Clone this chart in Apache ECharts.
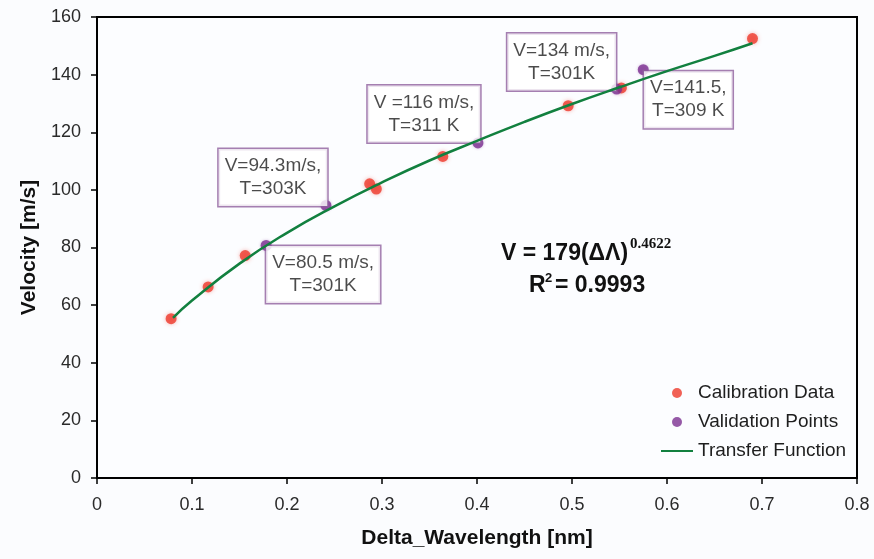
<!DOCTYPE html>
<html lang="en">
<head>
  <meta charset="UTF-8">
  <title>Velocity transfer function</title>
  <style>
    * { margin: 0; padding: 0; }
    body { background: #fbfcfe; }
    #chart { width: 874px; height: 559px; }
  </style>
</head>
<body>
  <div id="chart"></div>

  <script src="https://cdn.jsdelivr.net/npm/echarts@6/dist/echarts.min.js"></script>
  <script type="text/javascript">
  // calibration data (red)
  var calX = [0.078, 0.117, 0.156, 0.287, 0.294, 0.364, 0.496, 0.552, 0.690];
  var calY = [55.3, 66.3, 77.2, 102.1, 100.3, 111.6, 129.2, 135.4, 152.5];
  // validation points (purple)
  var valX = [0.178, 0.241, 0.401, 0.547, 0.575];
  var valY = [80.7, 94.6, 116.3, 135.0, 141.7];
  var valText = [
    'V=80.5 m/s,\nT=301K',
    'V=94.3m/s,\nT=303K',
    'V =116 m/s,\nT=311 K',
    'V=134 m/s,\nT=301K',
    'V=141.5,\nT=309 K'
  ];
  // transfer function curve
  var fitX = [0.08, 0.10, 0.15, 0.20, 0.25, 0.30, 0.35, 0.40, 0.45, 0.50, 0.55, 0.60, 0.65, 0.69];
  var fitY = [55.6, 61.6, 74.4, 85.1, 94.3, 102.6, 110.2, 117.0, 123.6, 129.8, 135.6, 141.2, 146.5, 150.9];
  var xTicks = ['0', '0.1', '0.2', '0.3', '0.4', '0.5', '0.6', '0.7', '0.8'];

  var FONT = "'Liberation Sans', Arial, sans-serif";

  function main () {
    var chart = echarts.init(document.getElementById('chart'));

    // where each annotation box sits relative to its point
    var boxOffset = [[57, 29], [-53, -28], [-54, -29], [-55, -27], [45, 30]];

    var valData = valX.map(function (x, i) {
      return {
        value: [x, valY[i]],
        label: {
          show: true,
          formatter: valText[i],
          position: ['50%', '50%'],
          align: 'center',
          verticalAlign: 'middle',
          offset: boxOffset[i],
          fontFamily: FONT,
          fontSize: 19,
          lineHeight: 23,
          color: '#1e1e1e',
          backgroundColor: '#ffffff',
          borderColor: '#8f5f9e',
          borderWidth: 1.5,
          padding: [6, 6, 5, 6]
        }
      };
    });

    var option = {
      backgroundColor: '#fbfcfe',
      animation: false,
      grid: {
        left: 97, right: 17, top: 17, bottom: 81,
        show: true, borderColor: '#000', borderWidth: 2, backgroundColor: '#fcfdff'
      },
      legend: {
        orient: 'vertical',
        left: 660,
        top: 383,
        padding: 0,
        itemWidth: 32,
        itemHeight: 10,
        itemGap: 9,
        textStyle: { fontFamily: FONT, fontSize: 19, lineHeight: 20, color: '#1e1e1e' },
        data: [
          { name: 'Calibration Data', icon: 'circle' },
          { name: 'Validation Points', icon: 'circle' },
          { name: 'Transfer Function', itemStyle: { opacity: 0 } }
        ]
      },
      xAxis: {
        type: 'value',
        min: 0, max: 0.8, interval: 0.1,
        name: 'Delta_Wavelength [nm]',
        nameLocation: 'middle',
        nameGap: 50,
        nameTextStyle: { fontFamily: FONT, fontSize: 21, fontWeight: 'bold', color: '#111' },
        axisLine: { lineStyle: { color: '#000', width: 2 } },
        axisTick: { length: 6, lineStyle: { color: '#000', width: 1.5 } },
        axisLabel: {
          margin: 18,
          fontFamily: FONT, fontSize: 18, color: '#2a2a2a',
          formatter: function (v) { return xTicks[Math.round(v * 10)]; }
        },
        splitLine: { show: false }
      },
      yAxis: {
        type: 'value',
        min: 0, max: 160, interval: 20,
        name: 'Velocity [m/s]',
        nameLocation: 'middle',
        nameGap: 56,
        nameTextStyle: { fontFamily: FONT, fontSize: 21, fontWeight: 'bold', color: '#111' },
        axisLine: { show: true, lineStyle: { color: '#000', width: 2 } },
        axisTick: { show: true, length: 6, lineStyle: { color: '#000', width: 1.5 } },
        axisLabel: { margin: 16, fontFamily: FONT, fontSize: 18, color: '#2a2a2a' },
        splitLine: { show: false }
      },
      series: [
        {
          name: 'Calibration Data',
          type: 'scatter',
          symbol: 'circle',
          symbolSize: 11,
          itemStyle: { color: '#ee3a2c', shadowColor: 'rgba(238,58,44,0.45)', shadowBlur: 4 },
          data: calX.map(function (x, i) { return [x, calY[i]]; }),
          z: 2
        },
        {
          name: 'Validation Points',
          type: 'scatter',
          symbol: 'circle',
          symbolSize: 11,
          itemStyle: { color: '#7c2f91', shadowColor: 'rgba(124,47,145,0.4)', shadowBlur: 3 },
          data: valData,
          z: 2
        },
        {
          name: 'Transfer Function',
          type: 'line',
          smooth: true,
          symbol: 'none',
          lineStyle: { color: '#12803f', width: 2.5 },
          itemStyle: { color: '#12803f' },
          data: fitX.map(function (x, i) { return [x, fitY[i]]; }),
          z: 3
        }
      ],
      graphic: [
        { type: 'text', left: 501, top: 242, z: 10,
          style: { text: 'V = 179(ΔΛ)', font: "bold 23px " + FONT, fill: '#111' } },
        { type: 'text', left: 630, top: 237, z: 10,
          style: { text: '0.4622', font: "bold 15px 'Liberation Serif', 'Times New Roman', serif", fill: '#111' } },
        { type: 'text', left: 529, top: 274, z: 10,
          style: { text: 'R', font: "bold 23px " + FONT, fill: '#111' } },
        { type: 'text', left: 545, top: 272, z: 10,
          style: { text: '2', font: "bold 13px " + FONT, fill: '#111' } },
        { type: 'text', left: 555, top: 274, z: 10,
          style: { text: '= 0.9993', font: "bold 23px " + FONT, fill: '#111' } }
      ]
    };
    chart.setOption(option);
  }

  window.addEventListener('load', main);
  </script>
</body>
</html>
